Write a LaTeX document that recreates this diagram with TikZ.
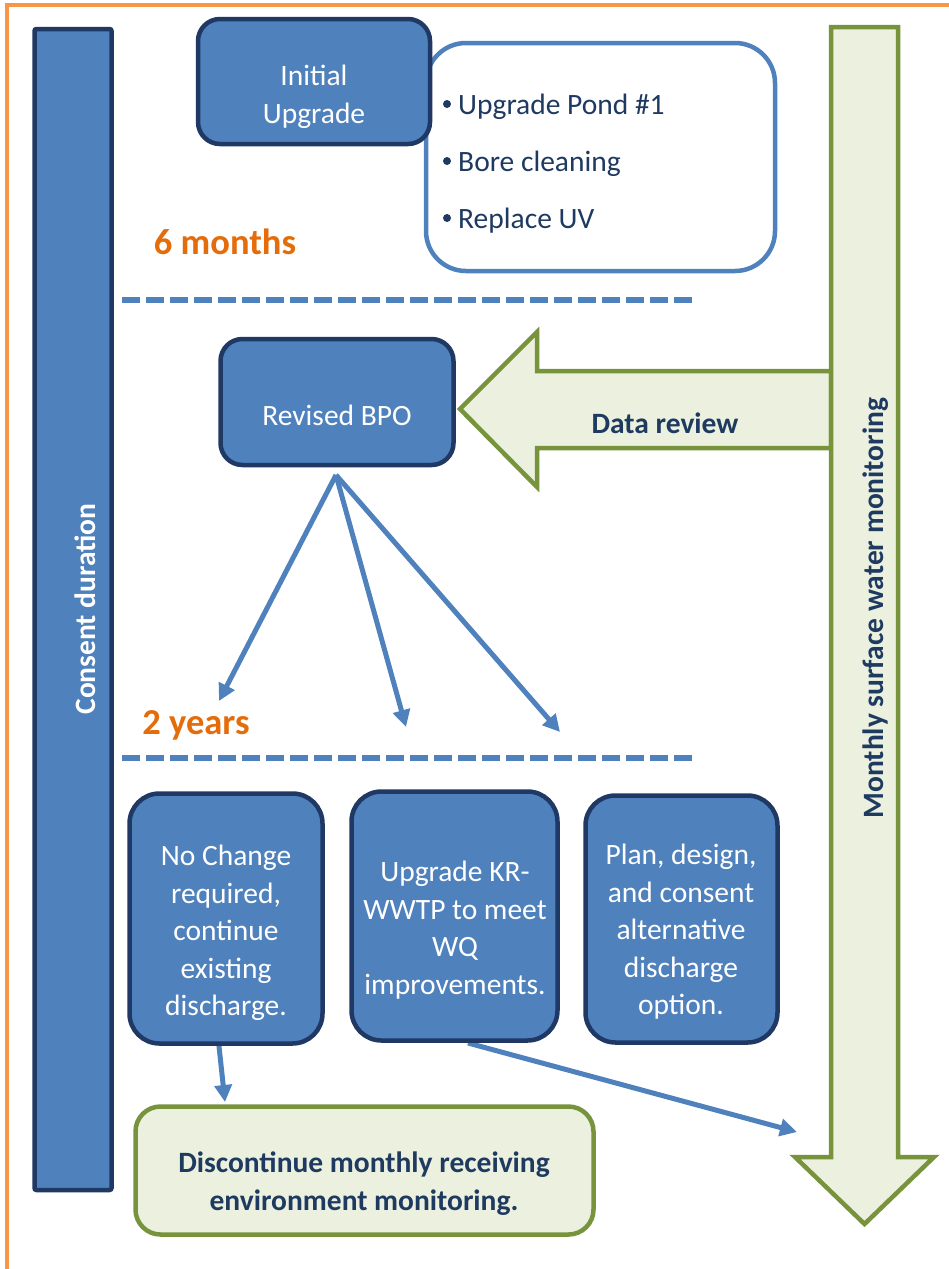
\documentclass[tikz,border=0pt]{standalone}
\usepackage{fontspec}
\setmainfont{Carlito}
\usetikzlibrary{arrows.meta,calc}
\definecolor{boxblue}{HTML}{4F81BD}
\definecolor{navy}{HTML}{1F3864}
\definecolor{textblue}{HTML}{1F3A60}
\definecolor{orangeframe}{HTML}{F79646}
\definecolor{orangetext}{HTML}{E46C0A}
\definecolor{lightgreen}{HTML}{EBF1DE}
\definecolor{olive}{HTML}{77933C}
\begin{document}
\begin{tikzpicture}[x=1pt,y=-1pt,
  bluebox/.style={draw=navy, line width=4.5pt, fill=boxblue, inner sep=0pt},
  whitetext/.style={text=white, align=center, inner sep=0pt, font=\fontsize{29.5}{37.5}\selectfont},
  bluetext/.style={text=textblue, inner sep=0pt, font=\fontsize{29.5}{37.5}\selectfont},
  boldblue/.style={text=textblue, align=center, inner sep=0pt, font=\bfseries\fontsize{29.5}{38}\selectfont},
  orangelabel/.style={text=orangetext, inner sep=0pt, font=\bfseries\fontsize{36.5}{42}\selectfont},
  greenshape/.style={draw=olive, line width=4.5pt, fill=lightgreen, line join=miter},
  divider/.style={draw=boxblue, line width=5.5pt, dash pattern=on 18pt off 6pt},
  flow/.style={draw=boxblue, line width=5pt, -{Triangle[length=17pt,width=17pt]}}
]
\useasboundingbox (0,0) rectangle (948,1269);
\fill[white] (0,0) rectangle (948,1269);

% orange frame
\draw[orangeframe, line width=4.5pt] (7,1290) -- (7,5) -- (970,5);

% consent duration bar
\node[bluebox, rounded corners=2pt, minimum width=77pt, minimum height=1161pt] (consent) at (73,609.5) {};
\node[whitetext, font=\bfseries\fontsize{29.5}{34}\selectfont, rotate=90] (consentlbl) at (85,609) {Consent duration};

% bullet box
\node[draw=boxblue, line width=4.5pt, fill=white, rounded corners=40pt, minimum width=349pt, minimum height=228pt, inner sep=0pt] (bullets) at (600.5,157) {};
\fill[textblue] (447,104) circle (4pt);
\fill[textblue] (447,161) circle (4pt);
\fill[textblue] (447,218) circle (4pt);
\node[bluetext, anchor=base west] (b1) at (458,114) {Upgrade Pond \#1};
\node[bluetext, anchor=base west] (b2) at (458,171) {Bore cleaning};
\node[bluetext, anchor=base west] (b3) at (458,228) {Replace UV};

% initial upgrade
\node[bluebox, rounded corners=22pt, minimum width=232pt, minimum height=125pt] (initial) at (314,81.5) {};
\node[whitetext] (initiallbl) at (314,97) {Initial\\Upgrade};

\node[orangelabel] (six) at (225,242) {6 months};
\draw[divider] (122,300) -- (692,300);

% data review arrow
\draw[greenshape] (460,409) -- (537,332) -- (537,371) -- (831,371) -- (831,448) -- (537,448) -- (537,487) -- cycle;
\node[boldblue] (datareview) at (665,423) {Data review};

% monitoring arrow
\draw[greenshape] (831,27) -- (898,27) -- (898,1157) -- (934,1157) -- (864.5,1224) -- (795,1157) -- (831,1157) -- cycle;
\node[boldblue, rotate=90] (monitor) at (876,608) {Monthly surface water monitoring};

% revised BPO
\node[bluebox, rounded corners=22pt, minimum width=233pt, minimum height=126pt] (revised) at (337,402) {};
\node[whitetext] (revisedlbl) at (337,415) {Revised BPO};

\coordinate (fan) at (336,475);
\coordinate (t1) at (219,701);
\coordinate (t2) at (406,727);
\coordinate (t3) at (560,732);
\draw[flow] (fan) -- (t1);
\draw[flow] (fan) -- (t2);
\draw[flow] (fan) -- (t3);

\node[orangelabel] (two) at (196,725) {2 years};
\draw[divider] (122,758) -- (692,758);

% option boxes
\coordinate (s1) at (218,1037);
\coordinate (s2) at (468,1043);
\coordinate (e2) at (797,1132);
\draw[flow] (s1) -- (225,1102) coordinate (e1);
\draw[flow] (s2) -- (e2);

\node[bluebox, rounded corners=30pt, minimum width=193pt, minimum height=250pt] (optA) at (226,918.5) {};
\node[whitetext] (optAlbl) at (226,933) {No Change\\required,\\continue\\existing\\discharge.};
\node[bluebox, rounded corners=30pt, minimum width=206pt, minimum height=249pt] (optB) at (454.5,916) {};
\node[whitetext] (optBlbl) at (455,930) {Upgrade KR-\\WWTP to meet\\WQ\\improvements.};
\node[bluebox, rounded corners=30pt, minimum width=192pt, minimum height=247pt] (optC) at (681.5,919) {};
\node[whitetext] (optClbl) at (681,932) {Plan, design,\\and consent\\alternative\\discharge\\option.};

% discontinue box
\node[greenshape, rounded corners=25pt, minimum width=458pt, minimum height=128pt, inner sep=0pt] (disc) at (364.5,1170.5) {};
\node[boldblue] (disclbl) at (364,1184) {Discontinue monthly receiving\\environment monitoring.};
\end{tikzpicture}
\end{document}
